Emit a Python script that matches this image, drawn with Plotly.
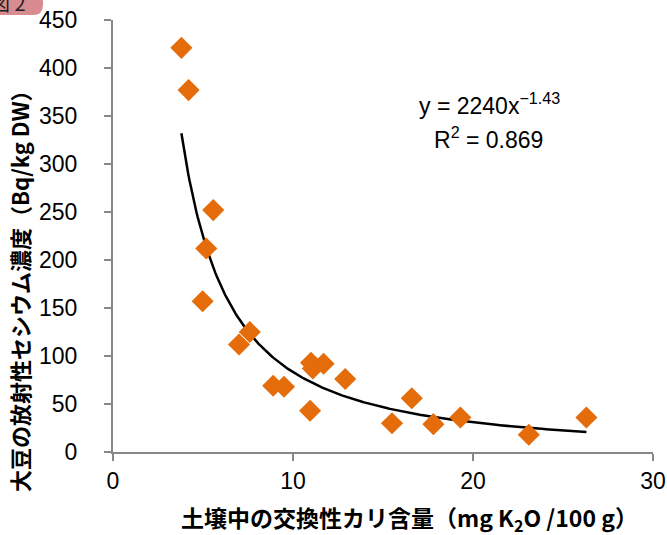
import numpy as np
import plotly.graph_objects as go

# Data
potassium = [3.8, 4.2, 5.57, 5.18, 4.98, 7.6, 7.0, 8.9, 9.5, 10.95, 11.0, 11.1, 11.7, 12.9,
             15.5, 16.6, 17.8, 19.3, 23.1, 26.3]
cesium = [421, 377, 252, 212, 157, 125, 112, 69, 68, 43, 93, 87, 92, 76,
          30, 56, 29, 36, 18, 36]

# Power trendline coefficients shown on the chart
fit_a = 2240
fit_b = -1.43
fit_r2 = 0.869

x_ticks = [0, 10, 20, 30]
y_ticks = [0, 50, 100, 150, 200, 250, 300, 350, 400, 450]

x_title = "土壌中の交換性カリ含量（mg K<sub>2</sub>O /100 g）"
y_title = "大豆の放射性セシウム濃度（Bq/kg DW）"

W, H = 667, 535
ML, MR, MT, MB = 113, 14, 20, 83
PW, PH = W - ML - MR, H - MT - MB

def px(x):
    return (x - ML) / PW

def py(y):
    return (H - MB - y) / PH

xf = np.linspace(min(potassium), max(potassium), 300)
yf = fit_a * xf ** fit_b

fig = go.Figure()
fig.add_trace(go.Scatter(x=xf, y=yf, mode="lines",
                         line=dict(color="black", width=2.5), hoverinfo="skip"))
fig.add_trace(go.Scatter(x=potassium, y=cesium, mode="markers",
                         marker=dict(symbol="diamond", size=17, color="#E46C0A",
                                     line=dict(width=0))))

tick_font = dict(family="Liberation Sans, Arial", size=23, color="black")
axis_common = dict(showline=True, linecolor="#878787", linewidth=2, ticks="outside",
                   ticklen=7, tickwidth=2, tickcolor="#878787", showgrid=False,
                   zeroline=False, tickfont=tick_font, ticklabeloverflow="allow")
fig.update_xaxes(range=[0, 30], tickvals=x_ticks, **axis_common)
fig.update_yaxes(range=[0, 450], tickvals=y_ticks, ticklabelstandoff=22, **axis_common)

title_font = dict(family="Noto Sans CJK JP", color="black", weight="bold")
fig.add_annotation(xref="paper", yref="paper", x=px(409), y=py(518),
                   xanchor="center", yanchor="middle", text=x_title, showarrow=False,
                   font=dict(size=23, **title_font))
fig.add_annotation(xref="paper", yref="paper", x=px(19), y=py(286),
                   xanchor="center", yanchor="middle", text=y_title, showarrow=False,
                   textangle=-90, font=dict(size=22, **title_font))

fig.add_annotation(xref="paper", yref="paper", x=px(489), y=py(104),
                   xanchor="center", yanchor="middle",
                   text=f"y = {fit_a}x<sup>\u2212{abs(fit_b)}</sup>", showarrow=False,
                   font=tick_font)
fig.add_annotation(xref="paper", yref="paper", x=px(488), y=py(138),
                   xanchor="center", yanchor="middle",
                   text=f"R<sup>2</sup> = {fit_r2}", showarrow=False,
                   font=tick_font)

# pink "図 2" tab in the corner
r = 10
x0, x1, y0, y1 = -5, 43, -5, 15
path = (f"M {px(x0)},{py(y0)} L {px(x1)},{py(y0)} L {px(x1)},{py(y1 - r)} "
        f"Q {px(x1)},{py(y1)} {px(x1 - r)},{py(y1)} L {px(x0)},{py(y1)} Z")
fig.add_shape(type="path", xref="paper", yref="paper", path=path,
              fillcolor="#D98C8F", line=dict(width=0), layer="above")
fig.add_annotation(xref="paper", yref="paper", x=px(28), y=py(3), xanchor="right",
                   yanchor="middle", text="図 2", showarrow=False,
                   font=dict(family="Noto Sans CJK JP", size=20, color="#222"))

fig.update_layout(width=W, height=H, margin=dict(l=ML, r=MR, t=MT, b=MB, autoexpand=False),
                  plot_bgcolor="white", paper_bgcolor="white", showlegend=False)
fig.write_html("out.html")
